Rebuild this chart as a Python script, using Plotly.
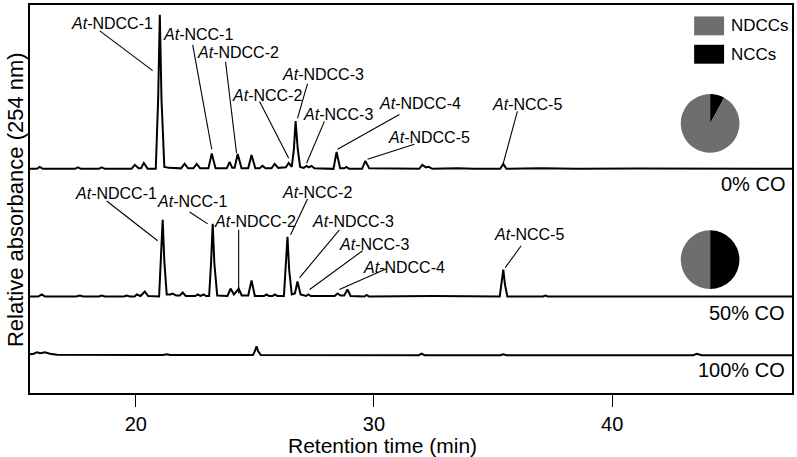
import plotly.graph_objects as go

# ---------------- data ----------------
# retention time (min) / relative absorbance (arbitrary units above each baseline)
time_0co = [15.56, 15.85, 15.97, 16.1, 17.45, 17.57, 17.7, 18.45, 18.57, 18.7, 19.82, 19.96, 20.12, 20.22,
            20.34, 20.5, 20.84, 20.94, 21.01, 21.08, 21.2, 21.4, 21.9, 22.05, 22.2, 22.42, 22.56, 22.7,
            23.05, 23.19, 23.35, 23.82, 23.94, 24.05, 24.15, 24.28, 24.44, 24.72, 24.86, 25.02, 25.2,
            25.32, 25.45, 25.7, 25.83, 25.98, 26.3, 26.42, 26.55, 26.64, 26.71, 26.8, 26.9, 27.05, 27.17,
            27.27, 27.38, 27.5, 28.3, 28.43, 28.58, 28.75, 28.85, 28.95, 29.5, 29.64, 29.8, 31.9, 32.03,
            32.18, 32.3, 32.45, 33.5, 34.2, 35.3, 35.43, 35.56, 37.0, 38.5, 41.0, 47.55]
abs_0co = [0, 0, 2, 0, 0, 1.5, 0, 0, 1.5, 0, 0, 4, 0.5, 0.5,
           6, 0, 0, 70, 155, 70, 2, 1, 0.5, 5, 0.5, 0.5, 5, 0.5,
           0.5, 15.5, 0.5, 0.5, 7, 1, 1, 15, 0.5, 0.5, 14, 0.5, 0.5,
           3, 0.5, 0.5, 5, 1, 1.5, 6, 2, 20, 48, 20, 2, 1, 3,
           1.5, 3, 0.5, 0, 17, 0.5, 0.5, 2, 0, 0, 8, 0.5, 0, 4,
           1.5, 2, 0, 0.5, 0, 0, 5, 0, 0.5, 0, 0.3, 0]

time_50co = [15.56, 15.9, 16.05, 16.2, 17.5, 17.65, 17.8, 18.45, 18.57, 18.7, 19.5, 19.62, 19.75, 19.95,
             20.04, 20.2, 20.38, 20.52, 20.98, 21.06, 21.13, 21.2, 21.3, 21.45, 21.55, 21.7, 21.85, 21.97,
             22.1, 22.5, 22.6, 22.72, 22.85, 22.95, 23.08, 23.16, 23.23, 23.3, 23.42, 23.85, 23.98, 24.12,
             24.32, 24.45, 24.72, 24.86, 25.0, 25.38, 25.49, 25.6, 25.75, 25.83, 25.95, 26.22, 26.3, 26.37,
             26.44, 26.55, 26.68, 26.79, 26.92, 27.15, 27.25, 27.35, 28.35, 28.47, 28.6, 28.75, 28.89,
             29.02, 29.6, 29.69, 29.8, 32.5, 35.28, 35.36, 35.43, 35.5, 35.6, 37.1, 37.2, 37.3, 47.55]
abs_50co = [0, 0, 2, 0, 0, 1, 0, 0, 1, 0, 0, 1, 0, 0,
            2, 0.5, 5, 0.5, 0, 35, 77, 35, 2, 2, 3, 1, 1, 4,
            0.5, 0.5, 2, 0.5, 2, 0.5, 0.5, 33, 73, 33, 1, 0.5, 8, 2,
            8, 1, 1, 16, 0.5, 0.5, 2, 0.5, 0.5, 2, 0.5, 0.5, 27, 60,
            27, 2, 3, 15, 2, 0.5, 2, 0.5, 0.5, 3, 1, 1, 7,
            0.5, 0, 1.5, 0, 0.5, 0, 12, 27, 12, 0, 0, 1, 0, 0]

time_100co = [15.56, 15.72, 15.85, 16.0, 16.18, 16.4, 16.69, 20.15, 20.3, 20.45, 21.15, 21.3, 21.45,
              24.92, 25.0, 25.07, 25.14, 25.25, 31.88, 32.0, 32.12, 35.3, 35.43, 35.56, 43.4, 43.56,
              43.75, 47.55]
abs_100co = [1, 1.5, 3, 2, 3, 1.5, 0.5, 0.3, 1, 0.3, 0.2, 1, 0.2,
             0.2, 4, 9, 4, 0.2, 0, 1.5, 0, 0, 1, 0, 0, 1.5,
             0, 0]

trace_times = [time_0co, time_50co, time_100co]
trace_values = [abs_0co, abs_50co, abs_100co]
trace_names = ["0% CO", "50% CO", "100% CO"]
baselines = [225.3, 97, 38]          # vertical stacking offsets

pie_labels = ["NCCs", "NDCCs"]
pie_0co = [8, 92]
pie_50co = [50, 50]

x_ticks = [20, 30, 40]

# peak labels: text, label (t, y), line start (t, y), line end (t, y)
peak_labels = [
    ("At", "-NDCC-1", 18.99, 371, 18.49, 364, 20.71, 324),
    ("At", "-NCC-1", 22.60, 360, 22.39, 350, 23.19, 245),
    ("At", "-NDCC-2", 24.28, 342, 23.77, 333, 24.23, 241),
    ("At", "-NCC-2", 25.49, 299, 25.20, 293, 26.42, 236),
    ("At", "-NDCC-3", 27.88, 320, 27.21, 311, 26.79, 276),
    ("At", "-NCC-3", 28.47, 280, 27.92, 273, 27.17, 231),
    ("At", "-NDCC-4", 31.95, 291, 31.07, 280, 28.47, 245),
    ("At", "-NDCC-5", 32.29, 257, 31.70, 250, 29.73, 235),
    ("At", "-NCC-5", 36.44, 290, 36.02, 283, 35.43, 231),
    ("At", "-NDCC-1", 19.16, 201, 18.78, 193, 20.92, 153),
    ("At", "-NCC-1", 22.35, 192.5, 22.26, 182, 23.02, 170),
    ("At", "-NDCC-2", 25.0, 172.5, 24.32, 164, 24.32, 100),
    ("At", "-NCC-2", 27.59, 202, 27.21, 195, 26.50, 159),
    ("At", "-NDCC-3", 29.14, 172, 28.55, 164, 26.88, 116),
    ("At", "-NCC-3", 30.02, 149, 29.52, 143, 27.30, 104),
    ("At", "-NDCC-4", 31.28, 126, 30.52, 125, 28.55, 104),
    ("At", "-NCC-5", 36.52, 159, 36.18, 148, 35.51, 126),
]

# ---------------- figure ----------------
FONT = "Liberation Sans, Arial, Helvetica, sans-serif"
GRAY = "#6e6e6e"
fig = go.Figure()

for t, v, b, name in zip(trace_times, trace_values, baselines, trace_names):
    fig.add_trace(go.Scatter(x=t, y=[b + a for a in v], mode="lines", name=name,
                             line=dict(color="black", width=2), showlegend=False,
                             hoverinfo="skip"))

W, H = 797, 457
ML, MR, MT, MB = 30, 4, 3, 64
pw, ph = W - ML - MR, H - MT - MB


def px_dom(cx, cy, r):
    return dict(x=[(cx - r - ML) / pw, (cx + r - ML) / pw],
                y=[(H - MB - (cy + r)) / ph, (H - MB - (cy - r)) / ph])


for vals, (cx, cy) in zip([pie_0co, pie_50co], [(711, 122), (711, 259)]):
    fig.add_trace(go.Pie(labels=pie_labels, values=vals, sort=False, direction="clockwise",
                         rotation=0, textinfo="none", hoverinfo="skip", showlegend=False,
                         marker=dict(colors=["black", GRAY], line=dict(width=0)),
                         domain=px_dom(cx, cy, 29.5)))

shapes = []
annotations = []
for it, rest, tx, ty, x0, y0, x1, y1 in peak_labels:
    annotations.append(dict(x=tx, y=ty, xref="x", yref="y", text=f"<i>{it}</i>{rest}",
                            showarrow=False, xanchor="center", yanchor="middle",
                            font=dict(size=16, color="black", family=FONT)))
    shapes.append(dict(type="line", xref="x", yref="y", x0=x0, y0=y0, x1=x1, y1=y1,
                       line=dict(color="black", width=1.1)))

for name, py in zip(trace_names, [183, 313, 370]):
    annotations.append(dict(x=(788 - ML) / pw, y=(H - MB - py) / ph, xref="paper", yref="paper",
                            text=name, showarrow=False, xanchor="right", yanchor="middle",
                            font=dict(size=20, color="black", family=FONT)))

# legend for pie charts
for lab, col, py in [("NDCCs", GRAY, 24), ("NCCs", "black", 52.5)]:
    shapes.append(dict(type="rect", xref="paper", yref="paper",
                       x0=(695 - ML) / pw, x1=(725 - ML) / pw,
                       y0=(H - MB - (py + 9.5)) / ph, y1=(H - MB - (py - 9.5)) / ph,
                       fillcolor=col, line=dict(width=0)))
    annotations.append(dict(x=(730 - ML) / pw, y=(H - MB - py) / ph, xref="paper", yref="paper",
                            text=lab, showarrow=False, xanchor="left", yanchor="middle",
                            font=dict(size=17, color="black", family=FONT)))

annotations.append(dict(x=(16 - ML) / pw, y=(H - MB - 199) / ph, xref="paper", yref="paper",
                        text="Relative absorbance (254 nm)", textangle=-90, showarrow=False,
                        xanchor="center", yanchor="middle",
                        font=dict(size=22, color="black", family=FONT)))
annotations.append(dict(x=(383 - ML) / pw, y=(H - MB - 446) / ph, xref="paper", yref="paper",
                        text="Retention time (min)", showarrow=False,
                        xanchor="center", yanchor="middle",
                        font=dict(size=21, color="black", family=FONT)))

fig.update_layout(
    width=W, height=H, margin=dict(l=ML, r=MR, t=MT, b=MB),
    paper_bgcolor="white", plot_bgcolor="white",
    shapes=shapes, annotations=annotations, showlegend=False,
    xaxis=dict(range=[15.56, 47.55], showgrid=False, zeroline=False, showline=True, mirror=True,
               linecolor="black", linewidth=1.5, ticks="outside", ticklen=12, tickwidth=1.3,
               tickcolor="black", tickvals=x_ticks,
               tickfont=dict(size=20, color="black", family=FONT)),
    yaxis=dict(range=[0, 390], showgrid=False, zeroline=False, showline=True, mirror=True,
               linecolor="black", linewidth=1.5, showticklabels=False, ticks=""),
)

fig.write_html("out.html", config={"displayModeBar": False},
               post_script="document.body.style.margin='0px';"
                           "document.body.style.overflow='hidden';")
